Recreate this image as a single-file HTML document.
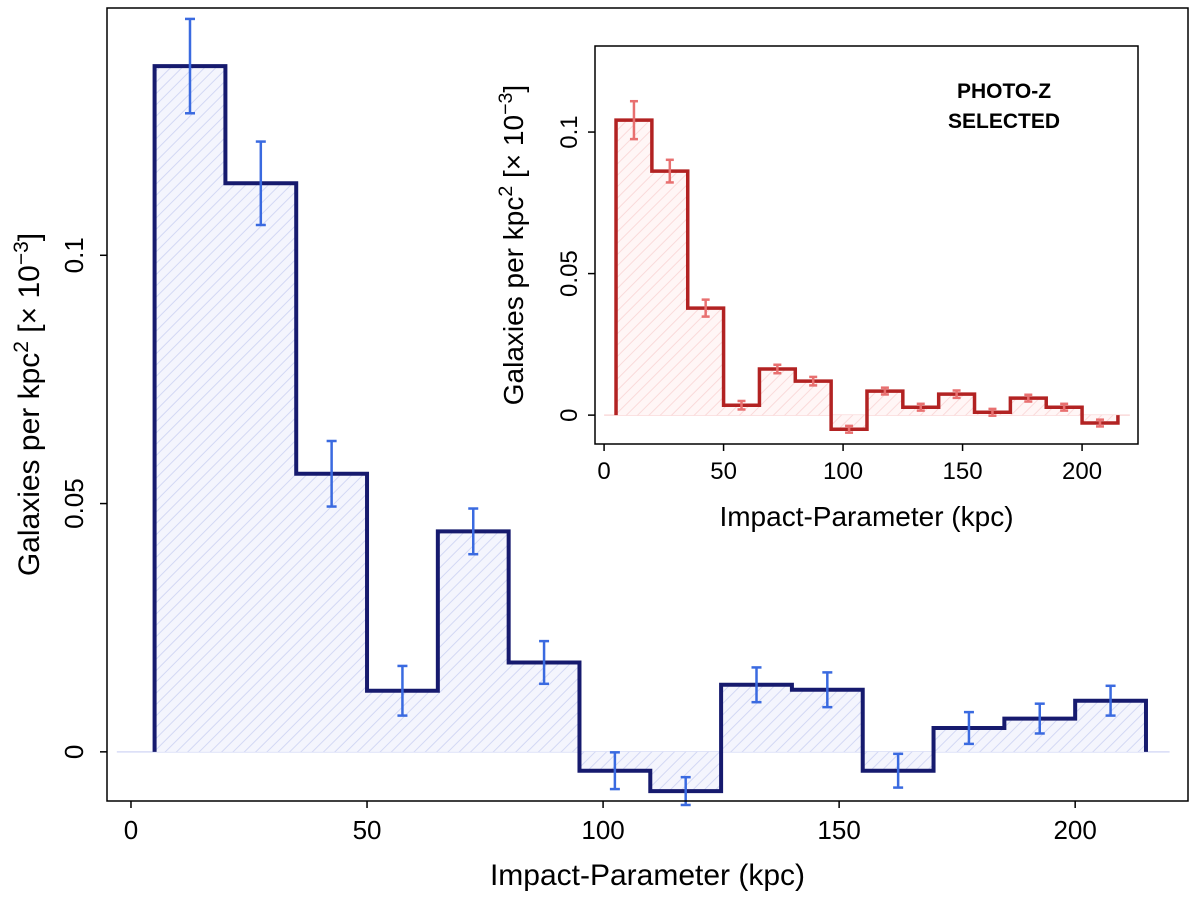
<!DOCTYPE html>
<html><head><meta charset="utf-8"><style>
html,body{margin:0;padding:0;background:#fff;}
svg{display:block;font-family:"Liberation Sans","DejaVu Sans",sans-serif;}
</style></head><body>
<svg id="chart" width="1200" height="897" viewBox="0 0 1200 897">
<defs>
<pattern id="hatchBlue" width="8" height="8" patternUnits="userSpaceOnUse" patternTransform="rotate(45)">
<rect width="8" height="8" fill="#f4f5fd"/><line x1="0" y1="0" x2="0" y2="8" stroke="#d3d8f4" stroke-width="2"/></pattern>
<pattern id="hatchRed" width="8" height="8" patternUnits="userSpaceOnUse" patternTransform="rotate(45)">
<rect width="8" height="8" fill="#fff6f6"/><line x1="0" y1="0" x2="0" y2="8" stroke="#fadada" stroke-width="2"/></pattern>
</defs>
<g id="main"></g>
<g id="inset"></g>
</svg>
<script>
const edges = [5,20,35,50,65,80,95,110,125,140,155,170,185,200,215];
const mainValues = [0.1381,0.1145,0.0560,0.0123,0.0444,0.0180,-0.0038,-0.0079,0.0135,0.0125,-0.0038,0.0048,0.0067,0.0103];
const mainErrors = [0.0095,0.0084,0.0066,0.0050,0.0046,0.0043,0.0037,0.0028,0.0035,0.0035,0.0034,0.0032,0.0030,0.0030];
const insetValues = [0.1042,0.0862,0.0378,0.0035,0.0163,0.0120,-0.0050,0.0085,0.0028,0.0074,0.0010,0.0060,0.0028,-0.0028];
const insetErrors = [0.0067,0.0040,0.0030,0.0015,0.0015,0.0015,0.0012,0.0012,0.0012,0.0013,0.0012,0.0012,0.0012,0.0012];
const xTicks = [0,50,100,150,200];
const yTicks = [0,0.05,0.1];
const yTickLabels = ["0","0.05","0.1"];

const NS="http://www.w3.org/2000/svg";
function mk(parent,tag,attrs,text){const e=document.createElementNS(NS,tag);for(const k in attrs)e.setAttribute(k,attrs[k]);if(text!==undefined)e.textContent=text;parent.appendChild(e);return e;}

function drawPanel(g,cfg){
  const x=v=>cfg.L+(v-cfg.x0)/(cfg.x1-cfg.x0)*(cfg.R-cfg.L);
  const y=v=>cfg.B-(v-cfg.y0)/(cfg.y1-cfg.y0)*(cfg.B-cfg.T);
  mk(g,'rect',{x:cfg.L,y:cfg.T,width:cfg.R-cfg.L,height:cfg.B-cfg.T,fill:'#fff'});
  const zl=mk(g,'line',{x1:x(cfg.zx0),x2:x(cfg.zx1),y1:y(0),y2:y(0),stroke:cfg.zeroColor,'stroke-width':1.5});
  
  
  let d='M'+x(edges[0])+','+y(0);
  cfg.values.forEach((v,i)=>{d+=' L'+x(edges[i])+','+y(v)+' L'+x(edges[i+1])+','+y(v);});
  const last=edges[edges.length-1];
  const fillD=d+' L'+x(last)+','+y(0)+' Z';
  const f=mk(g,'path',{d:fillD,fill:cfg.hatch,stroke:'none'});
  
  
  const s=mk(g,'path',{d:d+' L'+x(last)+','+y(0),fill:'none',stroke:cfg.stepColor,'stroke-width':cfg.sw,'stroke-linejoin':'miter'});
  
  
  cfg.values.forEach((v,i)=>{
    const cx=x((edges[i]+edges[i+1])/2);
    const eg=mk(g,'g',{stroke:cfg.errColor,'stroke-width':cfg.ew});
    
    
    const top=y(v+cfg.errors[i]),bot=y(v-cfg.errors[i]);
    mk(eg,'line',{x1:cx,x2:cx,y1:top,y2:bot});
    mk(eg,'line',{x1:cx-cfg.cap,x2:cx+cfg.cap,y1:top,y2:top});
    mk(eg,'line',{x1:cx-cfg.cap,x2:cx+cfg.cap,y1:bot,y2:bot});
  });
  const fr=mk(g,'rect',{x:cfg.L,y:cfg.T,width:cfg.R-cfg.L,height:cfg.B-cfg.T,fill:'none',stroke:'#000','stroke-width':1.5});
  
  
  xTicks.forEach(t=>{
    mk(g,'line',{x1:x(t),x2:x(t),y1:cfg.B,y2:cfg.B+7,stroke:'#000','stroke-width':1.5});
    const tl=mk(g,'text',{x:x(t),y:cfg.B+cfg.xlOff,'text-anchor':'middle','font-size':cfg.fs,fill:'#000'},String(t));
    
    
  });
  yTicks.forEach((t,i)=>{
    mk(g,'line',{x1:cfg.L-7,x2:cfg.L,y1:y(t),y2:y(t),stroke:'#000','stroke-width':1.5});
    const bx=cfg.L-cfg.ylOff;
    const tl=mk(g,'text',{x:bx,y:y(t),'text-anchor':'middle','font-size':cfg.fs,fill:'#000',transform:'rotate(-90 '+bx+' '+y(t)+')'},yTickLabels[i]);
    
    
  });
  const xt=mk(g,'text',{x:(cfg.L+cfg.R)/2,y:cfg.B+cfg.xtOff,'text-anchor':'middle','font-size':cfg.tfs,fill:'#000'},'Impact-Parameter (kpc)');
  
  
  const yx=cfg.L-cfg.ytOff, yy=(cfg.T+cfg.B)/2;
  const yt=mk(g,'text',{x:yx,y:yy,'text-anchor':'middle','font-size':cfg.tfs,fill:'#000',transform:'rotate(-90 '+yx+' '+yy+')'});
  
  
  mk(yt,'tspan',{},'Galaxies per kpc');
  mk(yt,'tspan',{dy:-11,'font-size':cfg.tfs*0.7},'2');
  mk(yt,'tspan',{dy:11},' [× 10');
  mk(yt,'tspan',{dy:-11,'font-size':cfg.tfs*0.7},'−3');
  mk(yt,'tspan',{dy:11},']');
  return {x,y};
}

drawPanel(document.getElementById('main'),{L:107,R:1188,T:8,B:801,x0:-5.08,x1:223.9,y0:-0.0099,y1:0.1498,
  values:mainValues,errors:mainErrors,hatch:'url(#hatchBlue)',stepColor:'#161a6e',errColor:'#3a6ae0',zeroColor:'#d8dcf6',
  sw:4,ew:2.5,cap:5,fs:26,tfs:30,xlOff:38,ylOff:24,xtOff:84,ytOff:68,zx0:-3,zx1:220});
drawPanel(document.getElementById('inset'),{L:595,R:1138,T:46,B:444,x0:-3.8,x1:223.4,y0:-0.0102,y1:0.1304,
  values:insetValues,errors:insetErrors,hatch:'url(#hatchRed)',stepColor:'#b22222',errColor:'#e87070',zeroColor:'#fadada',
  sw:3.5,ew:2.5,cap:4,fs:24,tfs:28,xlOff:35,ylOff:18,xtOff:82,ytOff:72,zx0:0,zx1:220});
const g=document.getElementById('inset');
const a=mk(g,'text',{x:1004,y:98,'text-anchor':'middle','font-size':21,'font-weight':'bold',fill:'#000'},'PHOTO-Z');


const b=mk(g,'text',{x:1004,y:128,'text-anchor':'middle','font-size':21,'font-weight':'bold',fill:'#000'},'SELECTED');


</script>
</body></html>
